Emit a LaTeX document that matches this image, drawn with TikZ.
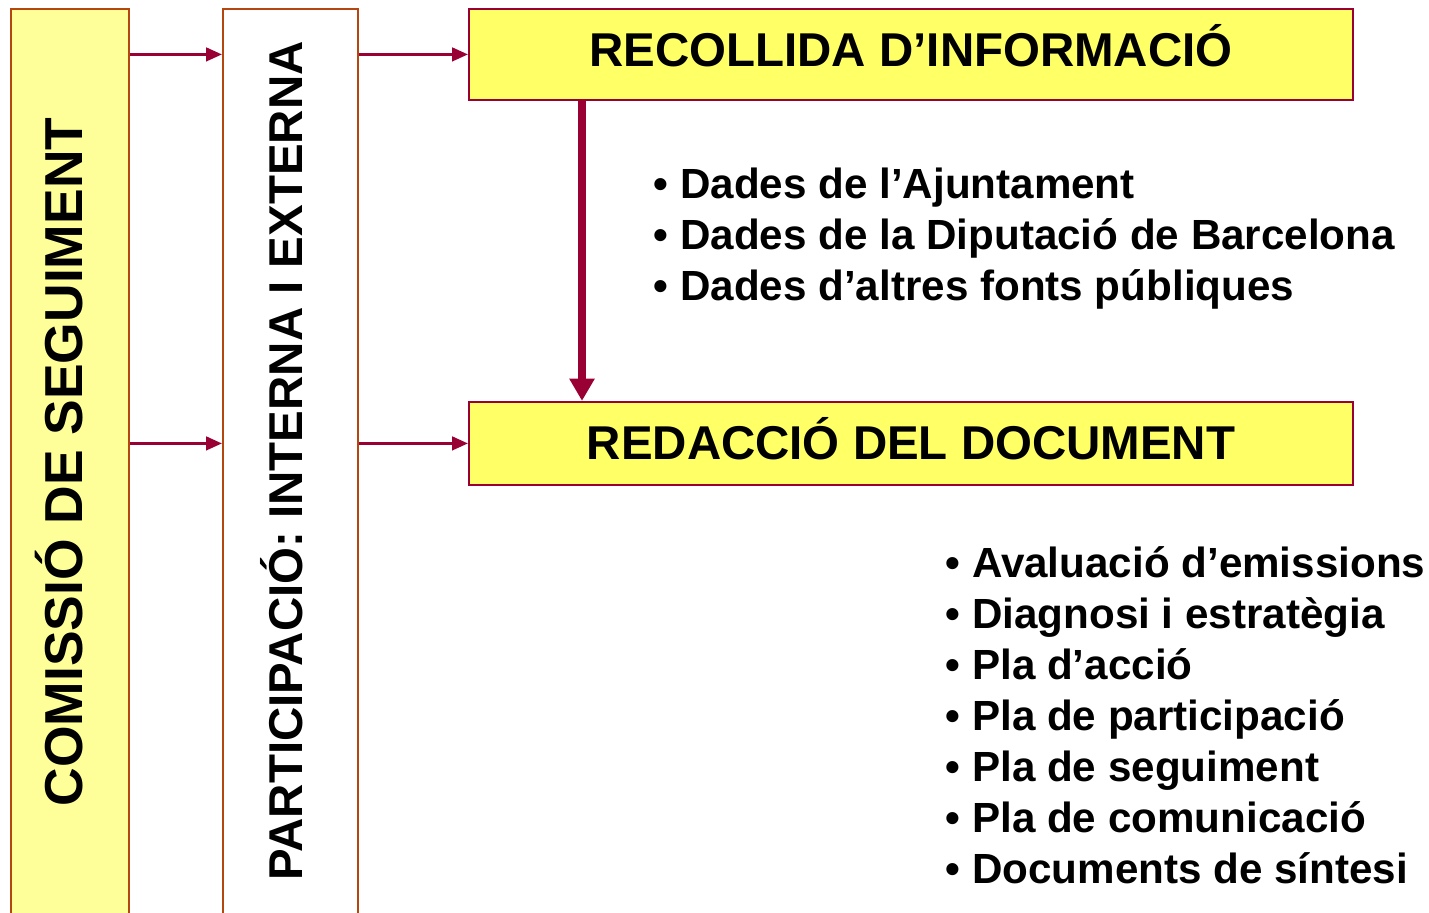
\documentclass[tikz,border=0pt]{standalone}
\usepackage{fontspec}
\setmainfont{Liberation Sans}
\usepackage{tikz}
\usetikzlibrary{arrows.meta}
\definecolor{crimson}{HTML}{990033}
\definecolor{rustbrown}{HTML}{B3470F}
\definecolor{paleyellow}{HTML}{FFFF99}
\definecolor{brightyellow}{HTML}{FFFF66}
\tikzset{
  colbox/.style={rectangle, draw=rustbrown, line width=0.6pt, anchor=south west},
  headbox/.style={rectangle, draw=crimson, line width=0.6pt, fill=brightyellow, minimum width=8.84cm, anchor=south west, font=\fontsize{13.5}{16}\selectfont\bfseries, text height=9.7pt},
  listtext/.style={align=left, inner sep=0pt, anchor=north west, font=\fontsize{12}{14.5}\selectfont\bfseries},
  flowarrow/.style={draw=crimson, line width=0.85pt, -{Triangle[length=4.5pt, width=3.8pt]}},
  flowthick/.style={draw=crimson, line width=2pt, -{Triangle[length=6.3pt, width=6.8pt]}}
}
\begin{document}
\begin{tikzpicture}

\useasboundingbox (0,0) rectangle (14.29,9.13);
\clip (0,0) rectangle (14.29,9.13);

%% the two columns on the left
\node at (0.10,-0.30) [colbox, fill=paleyellow, minimum width=1.18cm, minimum height=9.33cm] (comissio) {};
\node at (0.59,4.51) [rotate=90, font=\fontsize{15.2}{18}\selectfont\bfseries] (comissiolabel) {COMISSIÓ DE SEGUIMENT};

\node at (2.22,-0.30) [colbox, fill=white, minimum width=1.35cm, minimum height=9.33cm] (participacio) {};
\node at (2.82,4.52) [rotate=90, font=\fontsize{13.5}{16}\selectfont\bfseries] (participaciolabel) {PARTICIPACIÓ: INTERNA I EXTERNA};

%% the two steps
\node at (4.68,8.12) [headbox, minimum height=0.91cm, text depth=2.8pt] (recollida) {RECOLLIDA D’INFORMACIÓ};
\node at (4.68,4.27) [headbox, minimum height=0.83cm, text depth=0.8pt] (redaccio) {REDACCIÓ DEL DOCUMENT};

\node at (6.53,7.46) [listtext] (dadeslist) {• Dades de l’Ajuntament\\• Dades de la Diputació de Barcelona\\• Dades d’altres fonts públiques};
\node at (9.45,3.67) [listtext] (documentlist) {• Avaluació d’emissions\\• Diagnosi i estratègia\\• Pla d’acció\\• Pla de participació\\• Pla de seguiment\\• Pla de comunicació\\• Documents de síntesi};

\draw [flowarrow] (comissio.east |- recollida.west) -- (participacio.west |- recollida.west);
\draw [flowarrow] (participacio.east |- recollida.west) -- (recollida.west);
\draw [flowarrow] (comissio.east |- redaccio.west) -- (participacio.west |- redaccio.west);
\draw [flowarrow] (participacio.east |- redaccio.west) -- (redaccio.west);

\draw [flowthick] ([xshift=1.14cm]recollida.south west) -- ([xshift=1.14cm]redaccio.north west);

\end{tikzpicture}
\end{document}
